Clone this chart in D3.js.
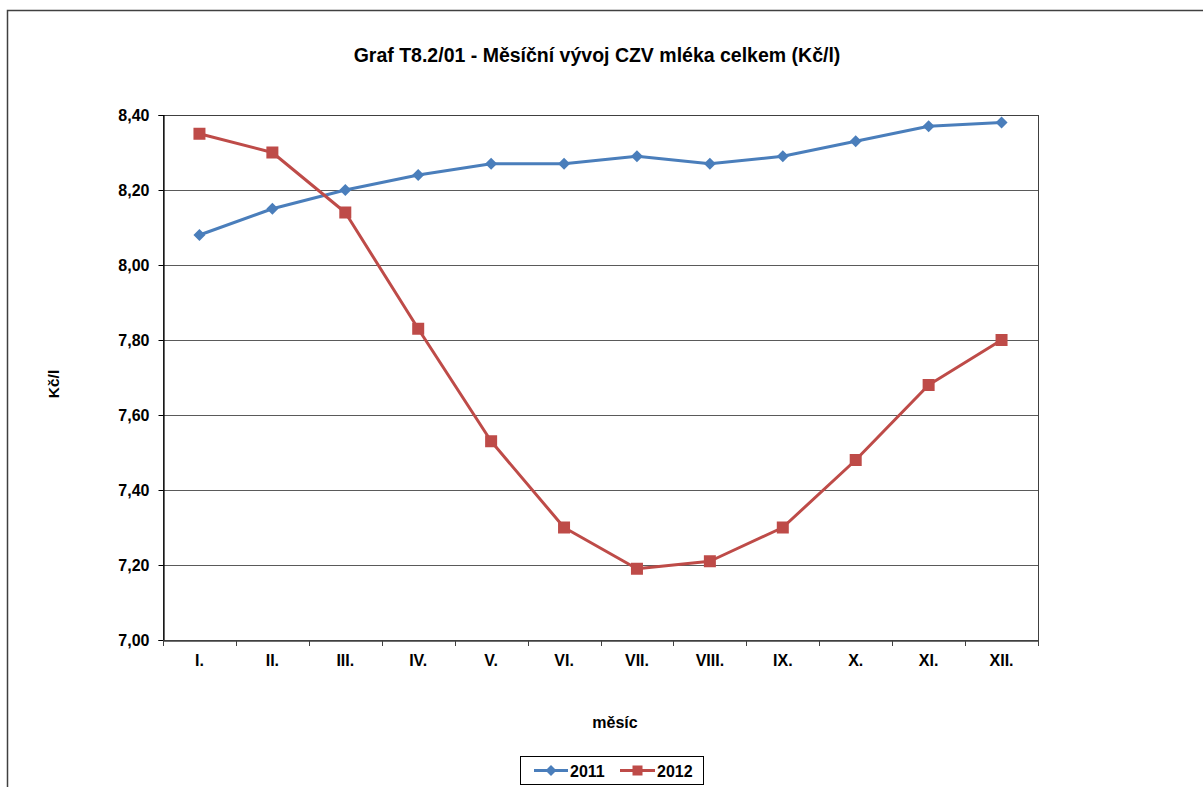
<!DOCTYPE html>
<html>
<head>
<meta charset="utf-8">
<script src="https://cdn.jsdelivr.net/npm/d3@7"></script>
<style>
  body { margin: 0; background: #fff; }
  svg { display: block; font-family: "Liberation Sans", Arial, sans-serif; }
</style>
</head>
<body>
<svg id="chart" width="1203" height="787"></svg>
<script>
const months = ["I.", "II.", "III.", "IV.", "V.", "VI.", "VII.", "VIII.", "IX.", "X.", "XI.", "XII."];
const values2011 = [8.08, 8.15, 8.20, 8.24, 8.27, 8.27, 8.29, 8.27, 8.29, 8.33, 8.37, 8.38];
const values2012 = [8.35, 8.30, 8.14, 7.83, 7.53, 7.30, 7.19, 7.21, 7.30, 7.48, 7.68, 7.80];
const yTicks = [7.00, 7.20, 7.40, 7.60, 7.80, 8.00, 8.20, 8.40];
const seriesNames = ["2011", "2012"];
const titleText = "Graf T8.2/01 - Měsíční vývoj CZV mléka celkem (Kč/l)";
const yLabel = "Kč/l";
const xLabel = "měsíc";

const colors = ["#4a7ebb", "#be4b48"];
const svg = d3.select("#chart");
const FF = "Liberation Sans, Arial, sans-serif";

// outer frame
svg.append("rect").attr("x", 7.5).attr("y", 10.5).attr("width", 1210).attr("height", 800)
  .attr("fill", "none").attr("stroke", "#404040").attr("stroke-width", 1.5);

const plot = {left: 163, top: 115, right: 1038, bottom: 640};

const x = d3.scaleBand().domain(months).range([plot.left, plot.right]);
const y = d3.scaleLinear().domain([7.0, 8.4]).range([plot.bottom, plot.top]);
const fmt = v => d3.format(".2f")(v).replace(".", ",");

// gridlines
svg.append("g").selectAll("line").data(yTicks.filter(t => t > 7.0 && t < 8.4)).join("line")
  .attr("x1", plot.left).attr("x2", plot.right)
  .attr("y1", d => Math.round(y(d)) + 0.5).attr("y2", d => Math.round(y(d)) + 0.5)
  .attr("stroke", "#5a5a5a").attr("stroke-width", 1);

// plot border
svg.append("rect").attr("x", plot.left + 0.5).attr("y", plot.top + 0.5)
  .attr("width", plot.right - plot.left).attr("height", plot.bottom - plot.top)
  .attr("fill", "none").attr("stroke", "#404040").attr("stroke-width", 1);

// y axis
const yAxis = d3.axisLeft(y).tickValues(yTicks).tickFormat(fmt).tickSize(5).tickPadding(9);
const gy = svg.append("g").attr("transform", `translate(${plot.left + 0.5},0)`).call(yAxis);
gy.select(".domain").attr("stroke", "#000").attr("stroke-width", 1.2);
gy.selectAll(".tick line").attr("stroke", "#000");
gy.selectAll(".tick text").attr("font-size", 16).attr("font-weight", "bold").attr("fill", "#000")
  .attr("font-family", FF);

// x axis
const xAxis = d3.axisBottom(x).tickSize(0).tickPadding(14);
const gx = svg.append("g").attr("transform", `translate(0,${plot.bottom + 0.5})`).call(xAxis);
gx.select(".domain").attr("stroke", "#404040").attr("stroke-width", 1.5);
gx.selectAll(".tick text").attr("font-size", 16).attr("font-weight", "bold").attr("fill", "#000")
  .attr("font-family", FF);
// boundary ticks
const bounds = months.map(m => x(m)).concat([x(months[months.length - 1]) + x.bandwidth()]);
svg.append("g").selectAll("line").data(bounds).join("line")
  .attr("x1", d => Math.round(d) + 0.5).attr("x2", d => Math.round(d) + 0.5)
  .attr("y1", plot.bottom).attr("y2", plot.bottom + 6)
  .attr("stroke", "#404040").attr("stroke-width", 1);

// title
svg.append("text").attr("x", 597).attr("y", 62).attr("text-anchor", "middle")
  .attr("font-size", 19.5).attr("font-weight", "bold").text(titleText);

// axis labels
svg.append("text").attr("transform", "translate(59,384) rotate(-90)").attr("text-anchor", "middle")
  .attr("font-size", 15.5).attr("font-weight", "bold").text(yLabel);
svg.append("text").attr("x", 615).attr("y", 728).attr("text-anchor", "middle")
  .attr("font-size", 16).attr("font-weight", "bold").text(xLabel);

// series
const line = d3.line().x((d, i) => x(months[i]) + x.bandwidth() / 2).y(d => y(d));
const allSeries = [values2011, values2012];
allSeries.forEach((vals, si) => {
  svg.append("path").datum(vals).attr("d", line).attr("fill", "none")
    .attr("stroke", colors[si]).attr("stroke-width", 3).attr("stroke-linejoin", "round");
});
// markers 2011: diamonds
svg.append("g").selectAll("path").data(values2011).join("path")
  .attr("transform", (d, i) => `translate(${x(months[i]) + x.bandwidth() / 2},${y(d)})`)
  .attr("d", "M0,-6L6,0L0,6L-6,0Z").attr("fill", colors[0]);
// markers 2012: squares
svg.append("g").selectAll("rect").data(values2012).join("rect")
  .attr("x", (d, i) => x(months[i]) + x.bandwidth() / 2 - 6).attr("y", d => y(d) - 6)
  .attr("width", 12).attr("height", 12).attr("fill", colors[1]);

// legend
const lg = svg.append("g");
lg.append("rect").attr("x", 520.5).attr("y", 756.5).attr("width", 183).attr("height", 28)
  .attr("fill", "#fff").attr("stroke", "#000").attr("stroke-width", 1);
const legendItems = [{x0: 534, x1: 568, tx: 570}, {x0: 620, x1: 655, tx: 657}];
seriesNames.forEach((name, i) => {
  const it = legendItems[i];
  lg.append("line").attr("x1", it.x0).attr("x2", it.x1).attr("y1", 770.5).attr("y2", 770.5)
    .attr("stroke", colors[i]).attr("stroke-width", 3);
  const cx = (it.x0 + it.x1) / 2;
  if (i === 0) {
    lg.append("path").attr("transform", `translate(${cx},770.5)`).attr("d", "M0,-5.5L5.5,0L0,5.5L-5.5,0Z").attr("fill", colors[0]);
  } else {
    lg.append("rect").attr("x", cx - 5).attr("y", 765.5).attr("width", 10).attr("height", 10).attr("fill", colors[1]);
  }
  lg.append("text").attr("x", it.tx).attr("y", 776.5).attr("font-size", 16).attr("font-weight", "bold").text(name);
});
</script>
</body>
</html>
